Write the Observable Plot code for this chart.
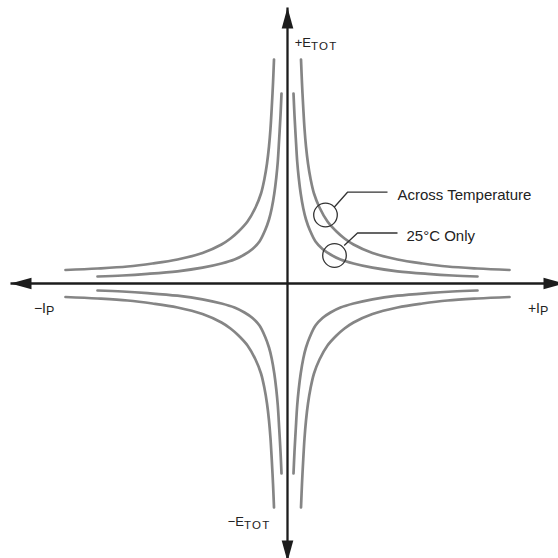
<!DOCTYPE html>
<html><head><meta charset="utf-8">
<script src="https://cdn.jsdelivr.net/npm/d3@7"></script>
<script src="https://cdn.jsdelivr.net/npm/@observablehq/plot@0.6"></script>
<style>html,body{margin:0;padding:0;background:#fff}</style>
</head><body><div id="chart"></div>
<script>
// Curve points (first quadrant: u = |I_P| offset, v = |E_TOT| offset)
const innerU = [6, 7, 8.3, 9.7, 11.2, 13.2, 15.8, 18.5, 22.5, 28, 35, 43, 53, 66, 85, 110, 140, 165, 190];
const innerV = [190, 168, 145, 122, 106, 90, 75, 64, 53, 42, 34.5, 29, 24, 20, 15.8, 12.2, 9.6, 8, 7];
const outerU = [13.5, 14.5, 15.8, 17, 18.5, 20.5, 23, 26.5, 32, 40, 49, 57, 66, 85, 110, 135, 160, 190, 222];
const outerV = [224, 200, 175, 155, 137, 120, 105, 90, 76, 62, 52, 45, 39, 30.5, 24, 20, 17, 15, 13.5];
const curveNames = ["25°C Only", "Across Temperature"];
const quadrantSigns = [[1, 1], [-1, 1], [-1, -1], [1, -1]];

// Axis extents (arrow tips)
const axisX = [-277, 277];
const axisY = [-278, 276];

// Axis labels: main part + subscript
const axisMain = ["+E", "−E", "−I", "+I"];
const axisSub = ["TOT", "TOT", "P", "P"];

// Callouts
const calloutText = ["Across Temperature", "25°C Only"];
const calloutCircleX = [38, 47];
const calloutCircleY = [68.5, 28];

// ---- build tables ----
const curveRows = [];
[[innerU, innerV], [outerU, outerV]].forEach(([U, V], ci) => {
  quadrantSigns.forEach(([sx, sy], qi) => {
    U.forEach((u, i) => curveRows.push({x: sx * u, y: sy * V[i], z: curveNames[ci] + qi}));
  });
});

const axisLabelPos = [
  {x: 23.5, y: 237, sy: 233.5},
  {x: -43.5, y: -242, sy: -245},
  {x: -241.5, y: -29.5, sy: -31},
  {x: 252.5, y: -29.5, sy: -31}
];
const eLabels = [0, 1].map(i => ({text: axisMain[i], x: axisLabelPos[i].x, y: axisLabelPos[i].y}));
const iLabels = [2, 3].map(i => ({text: axisMain[i], x: axisLabelPos[i].x, y: axisLabelPos[i].y}));
const eSubs = [0, 1].map(i => ({text: axisSub[i], x: axisLabelPos[i].x, y: axisLabelPos[i].sy}));
const iSubs = [2, 3].map(i => ({text: axisSub[i], x: axisLabelPos[i].x, y: axisLabelPos[i].sy}));

const circles = calloutText.map((t, i) => ({x: calloutCircleX[i], y: calloutCircleY[i]}));
const leaders = [
  {x: 46.7, y: 76.3, g: 0}, {x: 60, y: 91.3, g: 0}, {x: 100, y: 91.3, g: 0},
  {x: 56.7, y: 38, g: 1}, {x: 70, y: 50.5, g: 1}, {x: 110, y: 50.5, g: 1}
];
const calloutLabels = [
  {text: calloutText[0], x: 110, y: 83.7},
  {text: calloutText[1], x: 119, y: 42.5}
];

const L = 21, W = 5.8;
const arrowSym = (dx, dy) => ({
  draw(ctx) {
    const px = -dy, py = dx;
    ctx.moveTo(0, 0);
    ctx.lineTo(-dx * L + px * W, -dy * L + py * W);
    ctx.lineTo(-dx * L - px * W, -dy * L - py * W);
    ctx.closePath();
  }
});
const axisCol = "#1c1c1c";

const chart = Plot.plot({
  width: 558,
  height: 558,
  margin: 0,
  x: {domain: [-287, 271], axis: null},
  y: {domain: [-275, 283], axis: null},
  style: {fontFamily: "'Liberation Sans', Arial, sans-serif", background: "#fff", color: "#222"},
  marks: [
    Plot.line(curveRows, {x: "x", y: "y", z: "z", curve: "catmull-rom", stroke: "#858585", strokeWidth: 2.7}),
    Plot.line([{x: axisX[0], y: 0}, {x: axisX[1], y: 0}], {x: "x", y: "y", stroke: axisCol, strokeWidth: 2.3, strokeLinecap: "butt"}),
    Plot.line([{x: 0, y: axisY[0]}, {x: 0, y: axisY[1]}], {x: "x", y: "y", stroke: axisCol, strokeWidth: 2.3, strokeLinecap: "butt"}),
    Plot.dot([{x: axisX[0], y: 0}], {x: "x", y: "y", symbol: arrowSym(-1, 0), fill: axisCol, stroke: null}),
    Plot.dot([{x: axisX[1], y: 0}], {x: "x", y: "y", symbol: arrowSym(1, 0), fill: axisCol, stroke: null}),
    Plot.dot([{x: 0, y: axisY[1]}], {x: "x", y: "y", symbol: arrowSym(0, -1), fill: axisCol, stroke: null}),
    Plot.dot([{x: 0, y: axisY[0]}], {x: "x", y: "y", symbol: arrowSym(0, 1), fill: axisCol, stroke: null}),
    Plot.dot(circles, {x: "x", y: "y", r: 11.8, stroke: "#333", strokeWidth: 1.3, fill: "none"}),
    Plot.line(leaders, {x: "x", y: "y", z: "g", stroke: "#333", strokeWidth: 1.3, strokeLinejoin: "miter", strokeLinecap: "butt"}),
    Plot.text(calloutLabels, {x: "x", y: "y", text: "text", textAnchor: "start", lineAnchor: "bottom", fontSize: 15, fill: "#222"}),
    Plot.text(eLabels, {x: "x", y: "y", text: "text", textAnchor: "end", lineAnchor: "bottom", fontSize: 13, fill: "#222"}),
    Plot.text(iLabels, {x: "x", y: "y", text: "text", textAnchor: "end", lineAnchor: "bottom", fontSize: 14, fill: "#222"}),
    Plot.text(eSubs, {x: "x", y: "y", text: "text", textAnchor: "start", lineAnchor: "bottom", fontSize: 11.5, fill: "#222"}),
    Plot.text(iSubs, {x: "x", y: "y", text: "text", textAnchor: "start", lineAnchor: "bottom", fontSize: 12.5, fill: "#222"})
  ]
});
chart.querySelectorAll('g[font-size="11.5"] text').forEach(t => t.setAttribute("letter-spacing", "1.2"));
document.getElementById("chart").appendChild(chart);
</script>
</body></html>
